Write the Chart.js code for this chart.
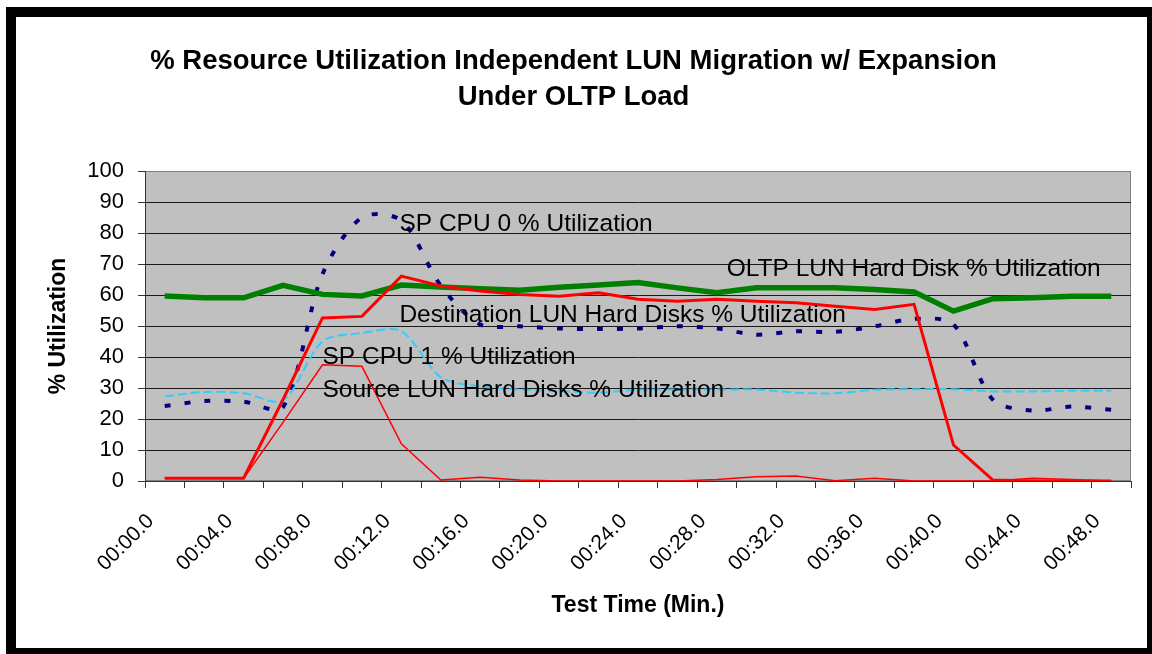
<!DOCTYPE html>
<html>
<head>
<meta charset="utf-8">
<title>% Resource Utilization Independent LUN Migration w/ Expansion</title>
<script src="https://cdn.jsdelivr.net/npm/chart.js@4.4.1/dist/chart.umd.min.js"></script>
<style>
  html, body { margin: 0; padding: 0; background: #fff; overflow: hidden; }
  #wrap { position: relative; width: 1152px; height: 654px; }
  #frame {
    position: absolute; left: 6px; top: 7px; width: 1146px; height: 647px;
    box-sizing: border-box; pointer-events: none;
    border-left: 10px solid #000; border-top: 10px solid #000;
    border-right: 5px solid #000; border-bottom: 6px solid #000;
  }
  canvas { position: absolute; left: 0; top: 0; }
</style>
</head>
<body>
<div id="wrap">
  <canvas id="utilChart" width="1152" height="654"></canvas>
  <div id="frame"></div>
</div>
<script>
// test time, one sample every 2 minutes
const times = [
  '00:00.0', '00:02.0', '00:04.0', '00:06.0', '00:08.0', '00:10.0', '00:12.0',
  '00:14.0', '00:16.0', '00:18.0', '00:20.0', '00:22.0', '00:24.0', '00:26.0',
  '00:28.0', '00:30.0', '00:32.0', '00:34.0', '00:36.0', '00:38.0', '00:40.0',
  '00:42.0', '00:44.0', '00:46.0', '00:48.0'
];

const oltpDisk = [59.7, 59.1, 59.1, 63.1, 60.2, 59.7, 63.2, 62.6, 62.0, 61.5, 62.5, 63.2, 64.0,
                  62.3, 60.7, 62.3, 62.3, 62.3, 61.8, 61.0, 54.8, 58.8, 59.1, 59.6, 59.6];
const spCpu0 = [24.2, 25.8, 25.6, 23.8, 66.7, 85.0, 84.0, 63.0, 50.5, 49.9, 49.2, 49.0, 49.2,
                49.9, 49.2, 47.2, 48.3, 48.1, 49.9, 52.3, 50.5, 26.2, 22.7, 24.0, 23.0];
const spCpu1 = [27.3, 28.7, 28.3, 26.0, 45.0, 47.7, 48.3, 33.5, 30.5, 29.5, 29.0, 28.5, 29.4,
                29.5, 29.5, 29.5, 28.5, 28.3, 29.4, 29.6, 29.6, 28.9, 28.9, 29.1, 29.1];
const destDisks = [0.9, 0.9, 0.9, 26.3, 52.6, 53.1, 66.1, 62.9, 61.3, 60.2, 59.6, 60.7, 58.6,
                   58.0, 58.6, 58.0, 57.5, 56.4, 55.3, 57.0, 11.6, 0.3, 0, 0, 0];
const srcDisks = [0.9, 0.9, 0.9, 18.9, 37.5, 37.0, 12.0, 0.3, 1.2, 0.3, 0, 0, 0,
                  0, 0.5, 1.4, 1.6, 0.1, 0.9, 0, 0, 0, 0.9, 0.5, 0];

const yTicks = [0, 10, 20, 30, 40, 50, 60, 70, 80, 90, 100];

// series names written inside the plot, anchored at (category index, value)
const seriesNotes = [
  { text: 'SP CPU 0 % Utilization', at: 5.95, value: 82.8 },
  { text: 'OLTP LUN Hard Disk % Utilization', at: 14.25, value: 68.3 },
  { text: 'Destination LUN Hard Disks % Utilization', at: 5.95, value: 53.4 },
  { text: 'SP CPU 1 % Utilization', at: 4.0, value: 39.8 },
  { text: 'Source LUN Hard Disks % Utilization', at: 4.0, value: 29.4 }
];

Chart.defaults.font.family = '"Liberation Sans", Arial, sans-serif';
Chart.defaults.color = '#000';

const plotBackground = {
  id: 'plotBackground',
  beforeDraw(chart) {
    const { ctx, chartArea: a } = chart;
    ctx.save();
    ctx.fillStyle = '#c0c0c0';
    ctx.fillRect(a.left, a.top, a.right - a.left, a.bottom - a.top);
    ctx.strokeStyle = '#808080';
    ctx.lineWidth = 1;
    ctx.strokeRect(a.left + 0.5, a.top + 0.5, a.right - a.left - 1, a.bottom - a.top - 1);
    ctx.restore();
  }
};

const seriesLabels = {
  id: 'seriesLabels',
  afterDatasetsDraw(chart) {
    const { ctx, scales } = chart;
    ctx.save();
    ctx.font = '24.5px "Liberation Sans", Arial, sans-serif';
    ctx.fillStyle = '#000';
    ctx.textAlign = 'left';
    ctx.textBaseline = 'middle';
    seriesNotes.forEach(n => {
      ctx.fillText(n.text, scales.x.getPixelForValue(n.at), scales.y.getPixelForValue(n.value));
    });
    ctx.restore();
  }
};

const ctx = document.getElementById('utilChart').getContext('2d');

const utilChart = new Chart(ctx, {
  type: 'line',
  data: {
    labels: times,
    datasets: [
      {
        label: 'Source LUN Hard Disks % Utilization',
        data: srcDisks,
        borderColor: '#ff0000',
        borderWidth: 1.5,
        tension: 0
      },
      {
        label: 'Destination LUN Hard Disks % Utilization',
        data: destDisks,
        borderColor: '#ff0000',
        borderWidth: 3,
        tension: 0
      },
      {
        label: 'OLTP LUN Hard Disk % Utilization',
        data: oltpDisk,
        borderColor: '#008000',
        borderWidth: 5.5,
        tension: 0
      },
      {
        label: 'SP CPU 1 % Utilization',
        data: spCpu1,
        borderColor: '#33ccff',
        borderWidth: 2,
        borderDash: [9, 4],
        tension: 0.3
      },
      {
        label: 'SP CPU 0 % Utilization',
        data: spCpu0,
        borderColor: '#000080',
        borderWidth: 4,
        borderDash: [6, 14],
        tension: 0.3
      }
    ]
  },
  options: {
    responsive: false,
    animation: false,
    layout: {
      padding: { left: 16, right: 21, top: 17, bottom: 8 }
    },
    elements: {
      point: { radius: 0 },
      line: { fill: false }
    },
    scales: {
      x: {
        offset: true,
        afterFit: (scale) => { scale.height = 165; },
        grid: {
          offset: true,
          drawOnChartArea: false, // only the small tick marks below the axis
          drawTicks: true,
          tickLength: 7,
          tickColor: '#333'
        },
        border: { color: '#333', width: 1 },
        ticks: {
          autoSkip: false,
          minRotation: 45,
          maxRotation: 45,
          padding: 21,
          labelOffset: -14,
          font: { size: 21 },
          callback: function (val, idx) {
            return idx % 2 === 0 ? this.getLabelForValue(val) : '';
          }
        },
        title: {
          display: true,
          text: 'Test Time (Min.)',
          font: { size: 23, weight: 'bold' },
          padding: { top: 0, bottom: 27 }
        }
      },
      y: {
        min: 0,
        max: 100,
        afterFit: (scale) => { scale.width = 129; },
        afterBuildTicks: (scale) => { scale.ticks = yTicks.map(v => ({ value: v })); },
        grid: {
          color: (c) => (c.tick && c.tick.value === 100 ? '#808080' : '#1a1a1a'),
          tickColor: '#333',
          tickLength: 7,
          drawTicks: true
        },
        border: { color: '#333', width: 1 },
        ticks: {
          padding: 14,
          font: { size: 22 }
        },
        title: {
          display: true,
          text: '% Utilization',
          font: { size: 23, weight: 'bold' },
          padding: { top: 29, bottom: 0 }
        }
      }
    },
    plugins: {
      legend: { display: false },
      tooltip: { enabled: false },
      title: {
        display: true,
        text: ['% Resource Utilization Independent LUN Migration w/ Expansion', 'Under OLTP Load'],
        font: { size: 27.5, weight: 'bold', lineHeight: 36 / 27.5 },
        color: '#000',
        padding: { top: 26, bottom: 56 }
      }
    }
  },
  plugins: [plotBackground, seriesLabels]
});
</script>
</body>
</html>
